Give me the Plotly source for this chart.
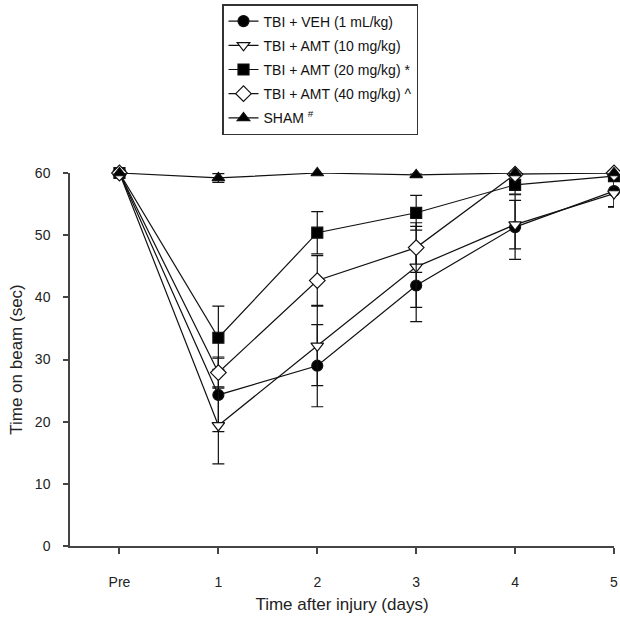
import plotly.graph_objects as go

x_vals = [0, 1, 2, 3, 4, 5]
tick_text = ["Pre", "1", "2", "3", "4", "5"]

veh = [60, 24.3, 29.0, 41.9, 51.3, 57.1]
veh_err = [0, 5.9, 6.6, 5.8, 5.2, 2.5]
amt10 = [60, 19.4, 32.2, 44.9, 51.7, 56.7]
amt10_err = [0, 6.2, 6.4, 6.5, 3.9, 2.2]
amt20 = [60, 33.5, 50.4, 53.6, 58.1, 59.5]
amt20_err = [0, 5.1, 3.4, 2.8, 1.5, 0.5]
amt40 = [60, 27.9, 42.7, 48.0, 59.8, 60.0]
amt40_err = [0, 2.5, 4.0, 4.0, 0.3, 0]
sham = [60, 59.2, 60.0, 59.7, 60.0, 60.0]
sham_err = [0, 0.7, 0, 0.3, 0, 0]

names = ["TBI + VEH (1 mL/kg)", "TBI + AMT (10 mg/kg)", "TBI + AMT (20 mg/kg) *",
         "TBI + AMT (40 mg/kg) ^", "SHAM <sup>#</sup>"]
series = [veh, amt10, amt20, amt40, sham]
errors = [veh_err, amt10_err, amt20_err, amt40_err, sham_err]
symbols = ["circle", "triangle-down", "square", "diamond", "triangle-up"]
fills = ["black", "white", "black", "white", "black"]

ink = "#111111"
fig = go.Figure()
for i, (nm, ys, er, sym, fc) in enumerate(zip(names, series, errors, symbols, fills)):
    fig.add_trace(go.Scatter(
        x=x_vals, y=ys, name=nm, mode="lines+markers",
        legendgroup=f"g{i}",
        line=dict(color=ink, width=1.2),
        marker=dict(symbol=sym, size=11 if sym != "diamond" else 12, color=fc,
                    line=dict(color=ink, width=1.2)),
        error_y=dict(type="data", array=er, visible=True, color=ink,
                     thickness=1.2, width=6),
        cliponaxis=False,
    ))

font_family = "Arial, Liberation Sans, sans-serif"
fig.update_layout(
    width=620, height=619,
    margin=dict(l=70, r=6, t=173, b=73, autoexpand=False),
    paper_bgcolor="white", plot_bgcolor="white",
    font=dict(family=font_family, color="#222222", size=13),
    showlegend=True,
    legend=dict(
        x=(222 - 70) / 544, y=(546 - 4) / 373, xanchor="left", yanchor="top",
        bordercolor="#333333", borderwidth=1.5, bgcolor="white",
        font=dict(size=14, family=font_family, color="#111111"),
        tracegroupgap=3, itemwidth=30,
    ),
    xaxis=dict(
        range=[-0.5, 5], tickmode="array", tickvals=x_vals, ticktext=tick_text,
        showgrid=False, zeroline=False, showline=True, linecolor="#444444", linewidth=1.5,
        ticks="outside", ticklen=6, tickcolor="#444444", tickwidth=1.5,
        tickfont=dict(size=14), ticklabelstandoff=16,
        title=dict(text="Time after injury (days)", font=dict(size=17), standoff=10),
    ),
    yaxis=dict(
        range=[0, 60], tickvals=[0, 10, 20, 30, 40, 50, 60],
        showgrid=False, zeroline=False, showline=True, linecolor="#444444", linewidth=1.5,
        ticks="outside", ticklen=5, tickcolor="#444444", tickwidth=1.5,
        tickfont=dict(size=14), ticklabelstandoff=10,
        title=dict(text="Time on beam (sec)", font=dict(size=17), standoff=8),
    ),
)

fig.write_html("out.html", config={"displayModeBar": False},
               post_script="document.body.style.margin='0px';")
